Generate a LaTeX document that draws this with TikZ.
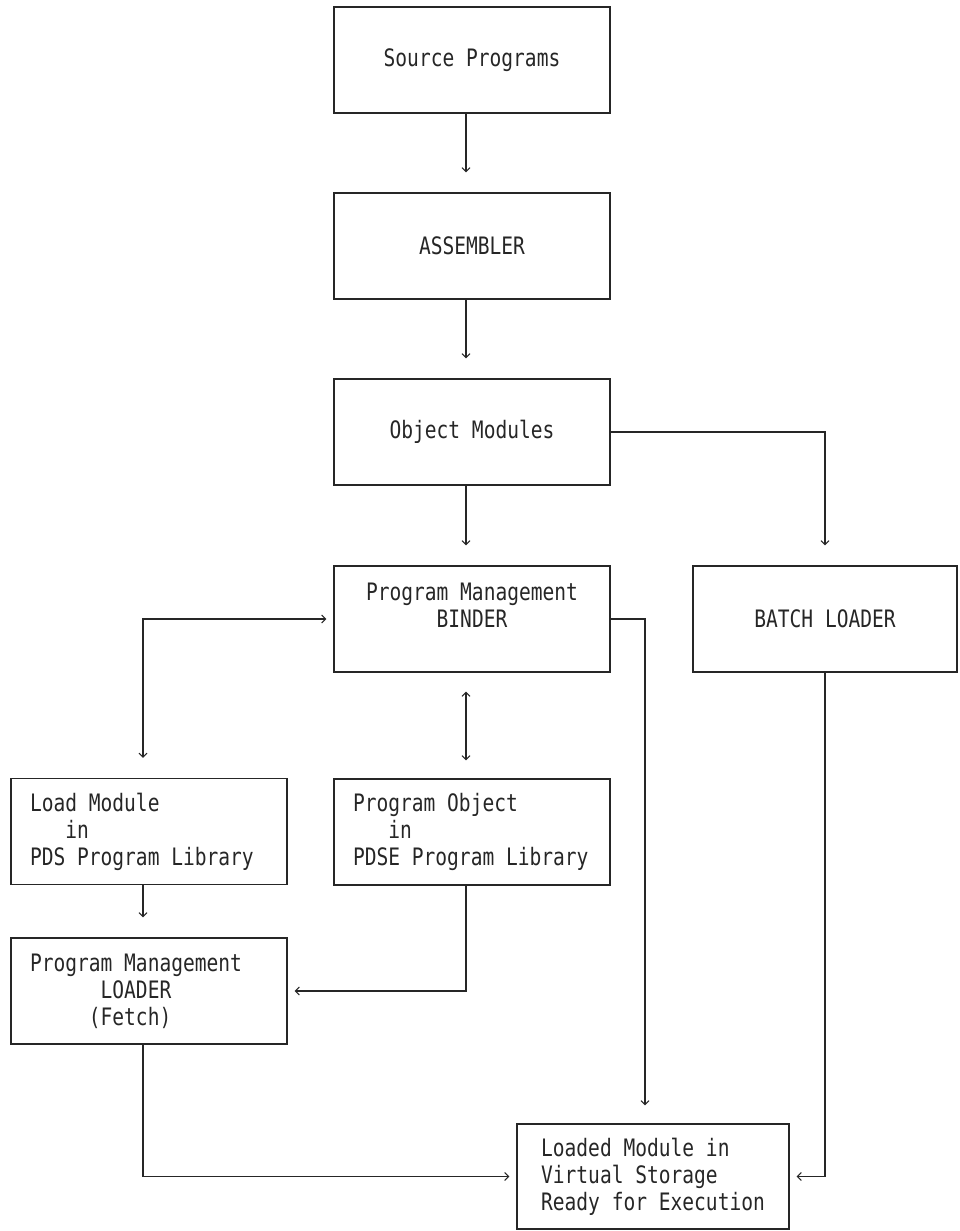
\documentclass[tikz,border=0pt]{standalone}
\usepackage{fontspec}
\setmonofont[FakeStretch=0.815]{DejaVu Sans Mono}
\usetikzlibrary{arrows.meta,calc}
\tikzset{
  stage/.style={
    rectangle,
    draw=black!85,
    line width=1.1pt,
    minimum width=276pt,
    minimum height=106pt,
    inner sep=0pt,
    align=flush left,
    font=\ttfamily\fontsize{24}{27}\selectfont,
    text=black!85
  },
  libstage/.style={
    stage,
    text width=238pt
  },
  Head/.tip={Straight Barb[length=4pt,width=8pt]},
  GapEnd/.tip={Rectangle[length=0.01pt,width=0.01pt,sep=6pt] Rectangle[length=6pt,width=1.1pt,line width=0pt] Straight Barb[length=4pt,width=8pt]},
  flow/.style={
    draw=black!85,
    line width=1.1pt
  },
  downflow/.style={
    flow,
    -{GapEnd},
    shorten >=20pt
  },
  sideflow/.style={
    flow,
    -{Head},
    shorten >=7pt
  }
}

\begin{document}
\begin{tikzpicture}[x=1pt,y=-1pt]
  \useasboundingbox (0,0) rectangle (959,1231);

  % main column
  \node[stage] (src) at (472,60) {Source Programs};
  \node[stage] (asm) at (472,246) {ASSEMBLER};
  \node[stage] (obj) at (472,432) {Object Modules};
  \node[stage] (binder) at (472,619) {Program Management\\\hphantom{000000}BINDER\\\mbox{}};
  \node[libstage] (pdse) at (472,832) {Program Object\\\hphantom{000}in\\PDSE Program Library};

  % right column
  \node[stage, minimum width=264pt] (batch) at (825,619) {BATCH LOADER};

  % left column
  \node[libstage] (loadmod) at (149,831.5) {Load Module\\\hphantom{000}in\\PDS Program Library};
  \node[libstage] (loader) at (149,991) {Program Management\\\hphantom{000000}LOADER\\\hphantom{00000}(Fetch)};

  % result
  \node[stage, minimum width=272pt, minimum height=105pt] (loaded) at (653,1176.5) {Loaded Module in\\Virtual Storage\\Ready for Execution};

  % binder <-> pdse meets half way
  \coordinate (mid) at ($([xshift=-6pt]binder.south)!0.5!([xshift=-6pt]pdse.north)$);

  \draw[downflow] ([xshift=-6pt]src.south) -- ([xshift=-6pt]asm.north);
  \draw[downflow] ([xshift=-6pt]asm.south) -- ([xshift=-6pt]obj.north);
  \draw[downflow] ([xshift=-6pt]obj.south) -- ([xshift=-6pt]binder.north);
  \draw[downflow] (obj.east) -| (batch.north);
  \draw[downflow, shorten >=19pt] (mid) -- ([xshift=-6pt]binder.south);
  \draw[downflow, shorten >=18pt] (mid) -- ([xshift=-6pt]pdse.north);
  \draw[downflow, {Head}-{GapEnd}, shorten <=7pt] (binder.west) -| ([xshift=-6pt]loadmod.north);
  \draw[downflow] ([xshift=-6pt]loadmod.south) -- ([xshift=-6pt]loader.north);
  \draw[sideflow] ([xshift=-6pt]pdse.south) |- (loader.east);
  \draw[downflow, shorten >=18pt] (binder.east) -| ([xshift=-8pt]loaded.north);
  \draw[sideflow] (batch.south) |- (loaded.east);
  \draw[sideflow] ([xshift=-6pt]loader.south) |- (loaded.west);
\end{tikzpicture}
\end{document}
